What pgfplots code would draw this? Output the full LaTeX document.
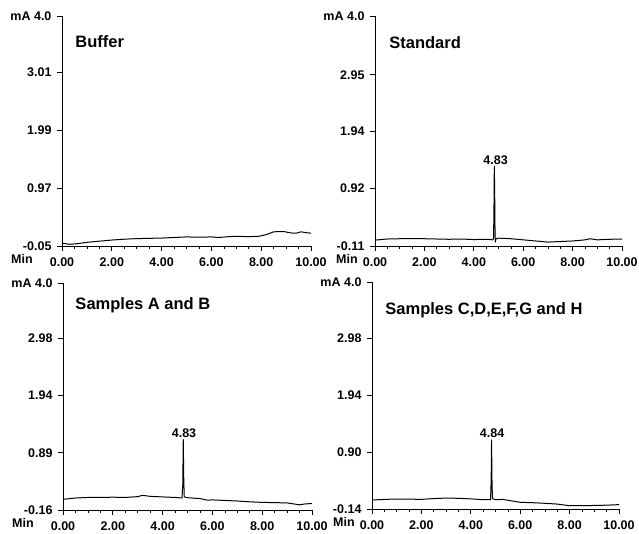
\documentclass[border=0pt]{standalone}
\usepackage{fontspec}
\setmainfont{Liberation Sans}
\usepackage{pgfplots}
\pgfplotsset{compat=1.18}

\newcommand\tickfont{\fontsize{12.5}{15}\selectfont\bfseries}
\newcommand\titlefont{\fontsize{16.5}{19}\selectfont\bfseries}

\pgfplotsset{
  chrom/.style={
    scale only axis,
    anchor=south west,
    xmin=0, xmax=10,
    axis lines*=left,
    axis line style={-, line width=0.8pt},
    tick align=outside,
    xtick={0,2,4,6,8,10},
    xticklabels={0.00,2.00,4.00,6.00,8.00,10.00},
    minor x tick num=3,
    major tick length=5pt,
    minor tick length=3pt,
    tick style={black, line width=0.7pt},
    ticklabel style={font=\tickfont},
    xticklabel style={yshift=-3pt},
    yticklabel style={xshift=-2pt},
    clip mode=individual,
  },
  trace/.style={black, line width=1pt, line join=round},
}

\begin{document}
\begin{tikzpicture}
\useasboundingbox (0pt,0pt) rectangle (639pt,-533pt);

% Buffer
\begin{axis}[chrom, at={(62pt,-246pt)}, width=249pt, height=230pt,
  ymin=-0.05, ymax=4.0,
  ytick={-0.05,0.97,1.99,3.01,4.0},
  yticklabels={-0.05,0.97,1.99,3.01,mA 4.0}]
\addplot[trace] coordinates {
  (0,0.0) (0.3,-0.02) (0.6,-0.01) (1,0.015) (1.5,0.035) (2,0.055) (2.5,0.07)
  (3,0.08) (3.5,0.085) (4,0.09) (4.5,0.10) (5,0.11) (5.5,0.105) (6,0.11)
  (6.3,0.10) (6.7,0.115) (7,0.12) (7.5,0.115) (7.9,0.12) (8.2,0.15) (8.5,0.20)
  (8.9,0.205) (9.2,0.18) (9.4,0.175) (9.6,0.20) (9.8,0.185) (10,0.175)
};
\node[font=\titlefont, anchor=west] at (rel axis cs:0.04,0.887) {Buffer};
\node[font=\tickfont] at (rel axis cs:0,0) [xshift=-40pt, yshift=-13pt] {Min};
\end{axis}

% Standard
\begin{axis}[chrom, at={(375pt,-246pt)}, width=247pt, height=230pt,
  ymin=-0.11, ymax=4.0,
  ytick={-0.11,0.92,1.94,2.95,4.0},
  yticklabels={-0.11,0.92,1.94,2.95,mA 4.0}]
\addplot[trace] coordinates {
  (0,-0.005) (0.5,0.015) (1,0.02) (2,0.02) (3,0.01) (3.5,0.015) (4,0.005)
  (4.5,0.01) (4.78,0.0) (4.80,0.05) (4.815,0.5) (4.83,1.31) (4.845,0.9)
  (4.855,0.3) (4.87,-0.04) (4.9,0.02) (5.0,0.03) (5.5,0.02) (6,0.0)
  (6.5,-0.02) (7,-0.04) (7.5,-0.03) (8,-0.02) (8.5,0.0) (8.7,0.02) (9,0.0)
  (9.5,0.01) (10,0.015)
};
\node[font=\tickfont, above, inner sep=2pt] at (axis cs:4.88,1.31) {4.83};
\node[font=\titlefont, anchor=west] at (rel axis cs:0.044,0.883) {Standard};
\node[font=\tickfont] at (rel axis cs:0,0) [xshift=-28pt, yshift=-13pt] {Min};
\end{axis}

% Samples A and B
\begin{axis}[chrom, at={(63pt,-510pt)}, width=249pt, height=227pt,
  ymin=-0.16, ymax=4.0,
  ytick={-0.16,0.89,1.94,2.98,4.0},
  yticklabels={-0.16,0.89,1.94,2.98,mA 4.0}]
\addplot[trace] coordinates {
  (0,0.035) (0.5,0.06) (1,0.07) (1.5,0.07) (2,0.075) (2.5,0.07) (3,0.085)
  (3.2,0.11) (3.5,0.09) (4,0.08) (4.5,0.07) (4.78,0.06) (4.81,0.3)
  (4.83,1.13) (4.85,0.4) (4.87,0.08) (5,0.065) (5.5,0.05) (5.8,0.02)
  (6,0.025) (6.5,0.015) (7,0.005) (7.5,-0.01) (8,-0.02) (8.5,-0.025)
  (9,-0.03) (9.5,-0.065) (9.7,-0.05) (10,-0.04)
};
\node[font=\tickfont, above, inner sep=2pt] at (axis cs:4.86,1.13) {4.83};
\node[font=\titlefont, anchor=west] at (rel axis cs:0.036,0.903) {Samples A and B};
\node[font=\tickfont] at (rel axis cs:0,0) [xshift=-40pt, yshift=-13pt] {Min};
\end{axis}

% Samples C,D,E,F,G and H
\begin{axis}[chrom, at={(372pt,-509pt)}, width=247pt, height=227pt,
  ymin=-0.14, ymax=4.0,
  ytick={-0.14,0.90,1.94,2.98,4.0},
  yticklabels={-0.14,0.90,1.94,2.98,mA 4.0}]
\addplot[trace] coordinates {
  (0,0.024) (0.5,0.035) (1,0.042) (1.5,0.04) (2,0.036) (2.5,0.05) (3,0.06)
  (3.5,0.055) (4,0.045) (4.5,0.03) (4.80,0.03) (4.825,0.4) (4.84,1.12)
  (4.86,0.3) (4.88,0.05) (5,0.03) (5.3,0.035) (5.5,0.02) (5.7,0.005)
  (6,-0.018) (6.5,-0.025) (7,-0.036) (7.5,-0.05) (8,-0.08) (8.5,-0.08)
  (9,-0.075) (9.5,-0.07) (10,-0.06)
};
\node[font=\tickfont, above, inner sep=2pt] at (axis cs:4.86,1.12) {4.84};
\node[font=\titlefont, anchor=west] at (rel axis cs:0.04,0.877) {Samples C,D,E,F,G and H};
\node[font=\tickfont] at (rel axis cs:0,0) [xshift=-28pt, yshift=-13pt] {Min};
\end{axis}
\end{tikzpicture}
\end{document}
